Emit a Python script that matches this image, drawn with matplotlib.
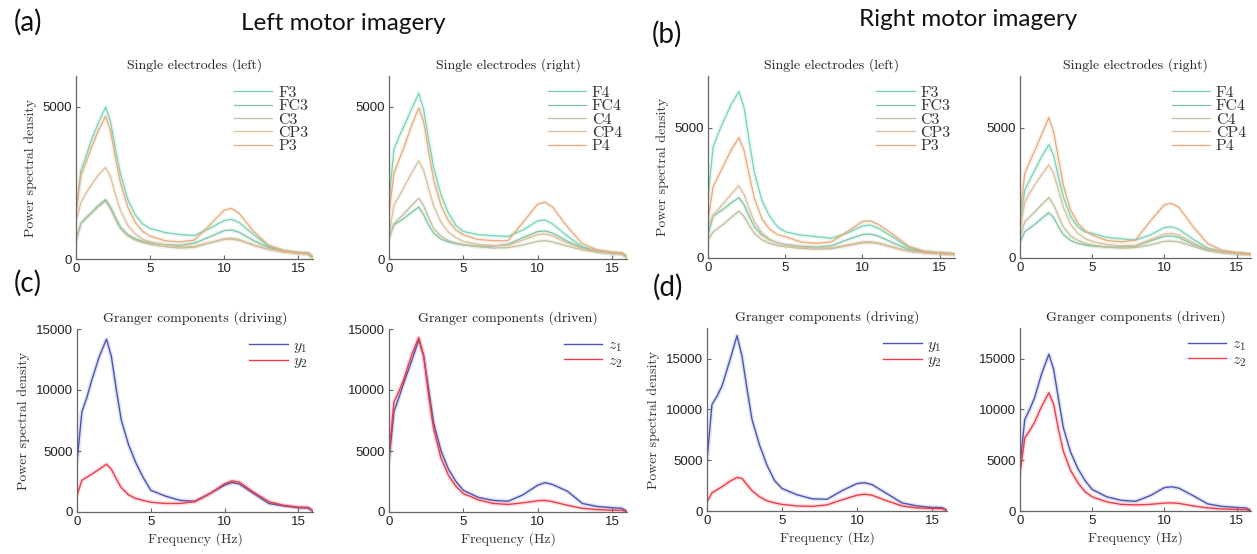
import matplotlib
matplotlib.use("Agg")
import matplotlib.pyplot as plt
import numpy as np

# ---------------- data ----------------
freq = [0, 0.33, 0.67, 1, 1.5, 2, 2.33, 2.67, 3, 3.5, 4, 4.5, 5, 6, 7, 8, 9, 10, 10.5, 11, 12, 13, 14, 15, 15.67, 16]

labels_left = ["F3", "FC3", "C3", "CP3", "P3"]
labels_right = ["F4", "FC4", "C4", "CP4", "P4"]

# (a) Left motor imagery, left electrodes
a_F3 = [1550, 2900, 3350, 3850, 4450, 4980, 4500, 3600, 2800, 1950, 1450, 1150, 1000, 870, 800, 770, 1000, 1260, 1300, 1200, 800, 420, 270, 210, 190, 60]
a_FC3 = [620, 1170, 1350, 1500, 1750, 1950, 1700, 1350, 1050, 800, 660, 580, 530, 470, 450, 520, 720, 930, 950, 880, 600, 380, 260, 200, 180, 50]
a_C3 = [620, 1150, 1330, 1480, 1720, 1900, 1650, 1300, 1000, 760, 620, 540, 480, 400, 360, 380, 520, 660, 680, 640, 460, 320, 240, 190, 170, 50]
a_CP3 = [1250, 1850, 2150, 2400, 2750, 3000, 2700, 2100, 1600, 1100, 820, 650, 560, 460, 400, 420, 540, 640, 650, 610, 450, 310, 230, 190, 170, 50]
a_P3 = [1550, 2750, 3150, 3600, 4200, 4680, 4200, 3300, 2500, 1700, 1200, 900, 750, 600, 560, 620, 1100, 1600, 1660, 1500, 900, 450, 280, 200, 180, 60]
# (a) Left motor imagery, right electrodes
a_F4 = [1900, 3600, 4000, 4350, 4900, 5430, 4900, 3900, 3000, 2100, 1500, 1100, 900, 800, 760, 740, 950, 1250, 1280, 1150, 750, 400, 260, 200, 180, 70]
a_FC4 = [700, 1120, 1220, 1330, 1520, 1700, 1450, 1100, 850, 650, 560, 500, 460, 420, 420, 480, 700, 900, 920, 850, 580, 370, 250, 190, 170, 50]
a_C4 = [700, 1150, 1320, 1480, 1750, 1990, 1750, 1350, 1000, 750, 600, 520, 470, 400, 360, 370, 460, 580, 600, 560, 420, 300, 220, 180, 160, 50]
a_CP4 = [800, 1770, 2050, 2350, 2800, 3220, 2900, 2300, 1750, 1200, 880, 700, 580, 480, 440, 450, 620, 800, 820, 760, 520, 340, 240, 190, 170, 50]
a_P4 = [1500, 2800, 3250, 3650, 4350, 4950, 4500, 3500, 2600, 1750, 1250, 950, 790, 640, 600, 600, 1200, 1800, 1860, 1700, 1050, 500, 300, 220, 200, 60]

# (b) Right motor imagery, left electrodes
b_F3 = [2350, 4270, 4800, 5250, 5900, 6400, 5800, 4500, 3300, 2200, 1600, 1200, 1010, 880, 820, 760, 950, 1230, 1270, 1150, 800, 400, 250, 200, 180, 150]
b_FC3 = [900, 1600, 1750, 1880, 2120, 2320, 2050, 1600, 1200, 880, 700, 580, 520, 450, 420, 470, 700, 900, 920, 850, 580, 330, 220, 180, 160, 140]
b_C3 = [700, 1000, 1150, 1300, 1560, 1800, 1600, 1250, 950, 700, 560, 480, 430, 370, 340, 360, 470, 580, 590, 560, 400, 260, 200, 170, 150, 140]
b_CP3 = [1200, 1650, 1880, 2100, 2450, 2780, 2450, 1900, 1400, 950, 720, 580, 500, 420, 380, 390, 500, 620, 630, 590, 420, 270, 200, 170, 150, 140]
b_P3 = [1460, 2740, 3150, 3550, 4150, 4630, 4150, 3200, 2300, 1500, 1100, 900, 820, 620, 560, 620, 1000, 1400, 1430, 1300, 900, 450, 260, 190, 170, 150]
# (b) Right motor imagery, right electrodes
b_F4 = [1400, 2600, 3000, 3350, 3900, 4360, 3950, 3100, 2350, 1600, 1200, 1000, 950, 800, 740, 690, 880, 1170, 1200, 1100, 720, 380, 250, 190, 170, 150]
b_FC4 = [600, 1010, 1150, 1280, 1520, 1740, 1550, 1200, 900, 680, 560, 500, 460, 420, 420, 460, 650, 830, 850, 790, 520, 320, 220, 170, 150, 140]
b_C4 = [800, 1390, 1580, 1760, 2050, 2320, 2050, 1600, 1200, 850, 680, 560, 500, 420, 380, 400, 500, 640, 650, 620, 440, 280, 200, 170, 150, 140]
b_CP4 = [1000, 2160, 2500, 2800, 3200, 3590, 3250, 2600, 1950, 1300, 950, 750, 640, 520, 470, 480, 700, 920, 950, 880, 580, 340, 230, 180, 160, 140]
b_P4 = [1650, 3250, 3700, 4100, 4750, 5400, 4850, 3800, 2800, 1850, 1350, 1050, 880, 680, 620, 690, 1400, 2050, 2100, 1950, 1200, 550, 300, 200, 170, 150]

# (c) Granger components, left motor imagery
c_y1 = [4100, 8200, 9400, 10800, 12700, 14170, 12750, 10000, 7540, 5500, 4000, 2800, 1780, 1300, 950, 880, 1500, 2200, 2410, 2300, 1500, 700, 500, 350, 320, 50]
c_y2 = [1370, 2600, 2850, 3100, 3500, 3920, 3500, 2700, 2000, 1400, 1100, 950, 800, 700, 700, 850, 1500, 2300, 2550, 2450, 1600, 850, 550, 400, 380, 100]
c_z1 = [4250, 8220, 9400, 10600, 12300, 14100, 12800, 10000, 7300, 5000, 3500, 2500, 1780, 1200, 950, 880, 1400, 2200, 2410, 2250, 1700, 700, 450, 350, 300, 50]
c_z2 = [4600, 9000, 9900, 10900, 12800, 14300, 12800, 9500, 6800, 4400, 3000, 2100, 1510, 1000, 700, 620, 750, 920, 950, 850, 550, 300, 200, 150, 130, 30]

# (d) Granger components, right motor imagery
d_y1 = [5000, 10470, 11300, 12300, 14700, 17240, 15250, 12000, 9000, 6500, 4500, 3000, 2210, 1600, 1200, 1150, 2000, 2700, 2780, 2600, 1700, 800, 500, 350, 330, 50]
d_y2 = [900, 1790, 2100, 2380, 2900, 3300, 3200, 2600, 2000, 1400, 1000, 800, 650, 500, 450, 600, 1100, 1550, 1650, 1550, 1000, 500, 300, 250, 230, 50]
d_z1 = [4530, 8990, 10000, 11100, 13500, 15420, 13940, 11000, 8200, 5800, 4200, 3000, 2120, 1400, 1050, 950, 1500, 2300, 2380, 2250, 1500, 700, 450, 350, 300, 50]
d_z2 = [3700, 7170, 7900, 8700, 10300, 11630, 10500, 8000, 5900, 4000, 2800, 1900, 1400, 900, 650, 600, 650, 780, 800, 750, 500, 300, 200, 150, 130, 30]

# ---------------- style ----------------
W, H = 1257, 554
fig = plt.figure(figsize=(W / 100, H / 100), dpi=100)

elec_colors = ["#74d4b8", "#7cc4a4", "#c0bd9c", "#dbbe9a", "#e6aa7a"]
blue = "#4a55b2"
red = "#ee3b45"
axis_grey = "#666666"
SERIF = "cmr10"
TICKFONT = "Liberation Sans"
plt.rcParams["mathtext.fontset"] = "cm"
plt.rcParams["axes.unicode_minus"] = False


def make_ax(left, right, top, bottom):
    return fig.add_axes([left / W, 1 - bottom / H, (right - left) / W, (bottom - top) / H])


def style(ax, ylim, yticks, xlabel=False, ylabel=False):
    ax.set_xlim(0, 16)
    ax.set_ylim(0, ylim)
    ax.set_xticks([0, 5, 10, 15])
    ax.set_yticks(yticks)
    for s in ["top", "right"]:
        ax.spines[s].set_visible(False)
    for s in ["left", "bottom"]:
        ax.spines[s].set_color(axis_grey)
        ax.spines[s].set_linewidth(0.9)
    ax.tick_params(direction="in", length=3, width=0.8, color=axis_grey,
                   labelsize=9.5, labelcolor="#222222", pad=3)
    for t in ax.get_xticklabels() + ax.get_yticklabels():
        t.set_fontfamily(TICKFONT)
    if xlabel:
        ax.set_xlabel("Frequency (Hz)", fontfamily=SERIF, fontsize=10, color="#333333", labelpad=3)
    if ylabel:
        ax.set_ylabel("Power spectral density", fontfamily=SERIF, fontsize=10, color="#333333", labelpad=4)


def draw(ax, series, colors, labels, lw=0.9):
    for y, c, lab in zip(series, colors, labels):
        ax.plot(freq, y, color=c, lw=3.2, alpha=0.15, solid_joinstyle="round")
        ax.plot(freq, y, color=c, lw=lw, label=lab)
    leg = ax.legend(loc="upper right", bbox_to_anchor=(1.02, 1.0), frameon=False,
                    handlelength=2.4, handletextpad=0.35,
                    labelspacing=-0.05, borderaxespad=0.2,
                    prop={"family": SERIF, "size": 11.5})
    for t in leg.get_texts():
        t.set_color("#333333")


def title(ax, s):
    ax.set_title(s, fontfamily=SERIF, fontsize=10, color="#222222", pad=5)


# top row
ax = make_ax(76, 313, 76, 259)
draw(ax, [a_F3, a_FC3, a_C3, a_CP3, a_P3], elec_colors, labels_left)
style(ax, 6000, [0, 5000], ylabel=True)
title(ax, "Single electrodes (left)")

ax = make_ax(389, 627, 76, 259)
draw(ax, [a_F4, a_FC4, a_C4, a_CP4, a_P4], elec_colors, labels_right)
style(ax, 6000, [0, 5000])
title(ax, "Single electrodes (right)")

ax = make_ax(708, 955, 76, 258)
draw(ax, [b_F3, b_FC3, b_C3, b_CP3, b_P3], elec_colors, labels_left)
style(ax, 7000, [0, 5000], ylabel=True)
title(ax, "Single electrodes (left)")

ax = make_ax(1020, 1251, 76, 258)
draw(ax, [b_F4, b_FC4, b_C4, b_CP4, b_P4], elec_colors, labels_right)
style(ax, 7000, [0, 5000])
title(ax, "Single electrodes (right)")

# bottom row
ax = make_ax(77, 313, 329, 512)
draw(ax, [c_y1, c_y2], [blue, red], ["$y_1$", "$y_2$"], lw=1.0)
style(ax, 15000, [0, 5000, 10000, 15000], xlabel=True, ylabel=True)
title(ax, "Granger components (driving)")

ax = make_ax(389, 627, 329, 512)
draw(ax, [c_z1, c_z2], [blue, red], ["$z_1$", "$z_2$"], lw=1.0)
style(ax, 15000, [0, 5000, 10000, 15000], xlabel=True)
title(ax, "Granger components (driven)")

ax = make_ax(707, 947, 328, 511)
draw(ax, [d_y1, d_y2], [blue, red], ["$y_1$", "$y_2$"], lw=1.0)
style(ax, 18000, [0, 5000, 10000, 15000], xlabel=True, ylabel=True)
title(ax, "Granger components (driving)")

ax = make_ax(1020, 1251, 328, 511)
draw(ax, [d_z1, d_z2], [blue, red], ["$z_1$", "$z_2$"], lw=1.0)
style(ax, 18000, [0, 5000, 10000, 15000], xlabel=True)
title(ax, "Granger components (driven)")

# headings and panel labels
HEAD = "Lato"


def ftext(x, y, s, size):
    fig.text(x / W, 1 - y / H, s, fontfamily=HEAD, fontsize=size, ha="center", va="center", color="#111111")


ftext(28, 22, "(a)", 20)
ftext(343, 24, "Left motor imagery", 17.5)
ftext(667, 34, "(b)", 20)
ftext(968, 20, "Right motor imagery", 17.5)
ftext(28, 283, "(c)", 20)
ftext(668, 287, "(d)", 20)

fig.savefig("out.png", dpi=100)
